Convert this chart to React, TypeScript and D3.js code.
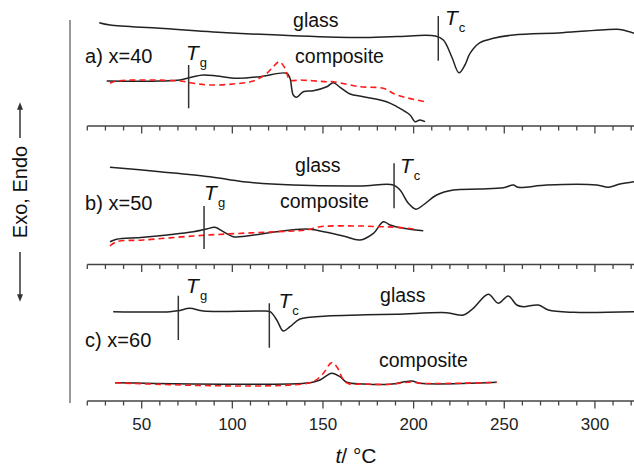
import React from 'react';
import * as d3 from 'd3';

// temperature (°C), signal (arb. units, per panel)
const glassA: [number, number][] = [
  [26.6, 103.3], [32.5, 101], [60.1, 97.7], [96.9, 93.3], [133.5, 90.3], [170.4, 88.5],
  [190.7, 89.5], [212, 90], [216.4, 86], [221, 69.3], [225, 53.3], [228.3, 61],
  [231.1, 72.7], [236.6, 83.3], [244, 87.7], [255, 91], [282, 93.3], [312, 96.7],
  [315.5, 96], [321.6, 92.7],
];
const compA: [number, number][] = [
  [30.7, 45], [60.1, 45], [71.1, 46], [78.5, 49.3], [84, 51], [91.4, 50], [102.4, 47.7],
  [115.3, 49.3], [130, 52.7], [131.8, 47.7], [133.6, 31], [135.5, 28.7], [139.1, 34.3],
  [144.7, 35.3], [152.1, 39.3], [155.7, 43.3], [159.4, 38.7], [164.9, 32], [172.2, 29.3],
  [185.1, 24.3], [190.7, 19.3], [198, 11], [200.8, 4.3], [203.5, 6], [206.3, 4.3],
];
const fitA: [number, number][] = [
  [32.5, 42.7], [36.2, 45], [71.1, 45], [78.5, 42.7], [87.7, 41], [100.5, 42], [111.6, 45],
  [119, 52.7], [122.6, 59.3], [125.9, 64.3], [129.1, 57.7], [131.8, 46], [137.3, 46],
  [152.1, 44.3], [155.7, 44.3], [170.4, 39.3], [183.3, 37.7], [190.7, 31], [206.3, 24.3],
];

const glassB: [number, number][] = [
  [32.5, 97.2], [60.1, 92.8], [87.7, 87.8], [106, 82.8], [133.6, 79.5], [170.4, 78.5],
  [188.8, 79.5], [192.5, 74.5], [197.1, 61.2], [201.3, 55.2], [205.3, 59.5], [212.7, 69.5],
  [221.9, 74.5], [236.6, 75.5], [249.5, 76.8], [255, 79.5], [257.7, 77.2], [273.4, 79.5],
  [301, 79.5], [307.4, 77.2], [313.8, 80.5], [321.6, 82.8],
];
const compB: [number, number][] = [
  [32.5, 22.8], [36.2, 25.2], [50.9, 27.2], [78.5, 32.8], [85.9, 35.5], [90.4, 37.2],
  [95, 32.8], [100.5, 27.8], [107.9, 28.5], [124.5, 32.8], [137.3, 35.2], [142.8, 35.2],
  [161.2, 28.5], [170.4, 24.5], [177.8, 31.2], [183.3, 42.8], [187, 39.5], [194.3, 36.2],
  [205.3, 33.8],
];
const fitB: [number, number][] = [
  [32.5, 18.5], [36.2, 22.8], [50.9, 24.5], [78.5, 28.5], [96.9, 30.5], [124.5, 32.8],
  [141, 34.5], [148.3, 37.8], [170.4, 38.5], [181.4, 37.8], [190.7, 37.2], [201.7, 35.2],
];

const glassC: [number, number][] = [
  [34.3, 89.3], [65.6, 89.3], [70.2, 90.3], [76.6, 92.7], [84, 90], [115.3, 90], [120.8, 89.3],
  [124.5, 81], [128.1, 70], [131.8, 74.3], [137.3, 82], [152.1, 85], [170.4, 86],
  [190.7, 86.7], [218.2, 88.3], [227.4, 86], [232.9, 92.7], [241.2, 106.7], [246.7, 97.7],
  [252.2, 105], [256.9, 96], [260.5, 94.3], [268.8, 96], [274.3, 91], [288.1, 88.7],
  [321.6, 89.3],
];
const compC: [number, number][] = [
  [35.3, 18.3], [142.8, 18.3], [148.3, 21], [154.8, 27.7], [159.4, 24.3], [163.1, 18.7],
  [172.2, 17], [187, 16.7], [198.9, 20], [203.5, 17.7], [245.8, 18.7],
];
const fitC: [number, number][] = [
  [35.3, 18.3], [142.8, 18.3], [149.4, 26], [154.8, 38.3], [157.7, 34], [161, 22],
  [163.8, 17.5], [172.2, 17], [187, 16.7], [198.9, 19], [203.5, 17.7], [245.8, 18.7],
];

// Tg / Tc marker lines: [temperature, from, to]
const markersA: [number, number, number][] = [[75.9, 61, 17.7], [213.6, 110, 65.3]];
const markersB: [number, number, number][] = [[84.4, 58.5, 15.5], [189.2, 101.2, 56.2]];
const markersC: [number, number, number][] = [[70.2, 105.3, 61], [120.4, 97.7, 53.3]];

const panelNames = ['a) x=40', 'b) x=50', 'c) x=60'];
const tickValues = d3.range(20, 321, 10);

const W = 634, H = 470;
const axisY = [126, 264.5, 401];
const x = d3.scaleLinear().domain([20, 322]).range([87.3, 634.8]);

const panels = [
  {
    glass: glassA, comp: compA, fit: fitA, markers: markersA,
    labels: { glass: [133.5, 99], comp: [134.6, 63], name: [18.8, 63] },
    tg: [74.4, 66], tc: [217.3, 101],
  },
  {
    glass: glassB, comp: compB, fit: fitB, markers: markersB,
    labels: { glass: [134.6, 92.8], comp: [126.3, 56.2], name: [18.8, 54.5] },
    tg: [84.4, 64.5], tc: [192.5, 91.2],
  },
  {
    glass: glassC, comp: compC, fit: fitC, markers: markersC,
    labels: { glass: [181.5, 99.3], comp: [180.9, 34.3], name: [18.8, 54.3] },
    tg: [74.5, 107.7], tc: [125.4, 92.7],
  },
];

const font = 'Liberation Sans, Arial, sans-serif';

const Sym = ({ px, py, sub }: { px: number; py: number; sub: string }) => (
  <text x={px} y={py} fontFamily={font} fill="#111">
    <tspan fontSize={21} fontStyle="italic">T</tspan>
    <tspan fontSize={13} dx={1} dy={7}>{sub}</tspan>
  </text>
);

const Panel = ({ p, i }: any) => {
  const bottom = axisY[i];
  const y = d3.scaleLinear().domain([0, 100]).range([bottom, bottom - 100]);
  const line = d3.line<[number, number]>()
    .x(d => x(d[0]))
    .y(d => y(d[1]))
    .curve(d3.curveCatmullRom.alpha(0.5));
  return (
    <g>
      <path d={line(p.glass) || ''} fill="none" stroke="#222" strokeWidth={1.5} />
      <path d={line(p.comp) || ''} fill="none" stroke="#222" strokeWidth={1.5} />
      <path d={line(p.fit) || ''} fill="none" stroke="#ff1a1a" strokeWidth={1.6} strokeDasharray="6,4" />
      {p.markers.map((m: [number, number, number], k: number) => (
        <line key={k} x1={x(m[0])} x2={x(m[0])} y1={y(m[1])} y2={y(m[2])} stroke="#333" strokeWidth={1.5} />
      ))}
      <text x={x(p.labels.glass[0])} y={y(p.labels.glass[1])} fontFamily={font} fontSize={19.5} fill="#111">glass</text>
      <text x={x(p.labels.comp[0])} y={y(p.labels.comp[1])} fontFamily={font} fontSize={19.5} fill="#111">composite</text>
      <text x={x(p.labels.name[0])} y={y(p.labels.name[1])} fontFamily={font} fontSize={20} fill="#111">{panelNames[i]}</text>
      <Sym px={x(p.tg[0])} py={y(p.tg[1])} sub="g" />
      <Sym px={x(p.tc[0])} py={y(p.tc[1])} sub="c" />
      <line x1={x(20)} x2={x(322)} y1={bottom} y2={bottom} stroke="#444" strokeWidth={1.5} />
      {tickValues.map(t => (
        <line key={t} x1={x(t)} x2={x(t)} y1={bottom} y2={bottom + (t % 50 === 0 ? 7.5 : 4.5)} stroke="#444" strokeWidth={1.3} />
      ))}
    </g>
  );
};

export default function App() {
  const last = axisY[2];
  return (
    <svg width={W} height={H} style={{ position: 'absolute', left: 0, top: 0, background: '#fff' }}>
      <defs>
        <marker id="arr" viewBox="0 0 10 10" refX={5} refY={5} markerWidth={5} markerHeight={5} orient="auto">
          <path d="M0,1 L10,5 L0,9 z" fill="#333" />
        </marker>
      </defs>
      <line x1={70} x2={70} y1={20} y2={403} stroke="#777" strokeWidth={1.5} />
      {panels.map((p, i) => <Panel key={i} p={p} i={i} />)}
      {tickValues.filter(t => t % 50 === 0 && t > 20).map(t => (
        <text key={t} x={x(t)} y={last + 29} textAnchor="middle" fontFamily={font} fontSize={17} fill="#222">{t}</text>
      ))}
      <text x={356} y={463} textAnchor="middle" fontFamily={font} fontSize={21} fill="#111">
        <tspan fontStyle="italic">t</tspan>/ °C
      </text>
      <g transform="translate(27,192) rotate(-90)">
        <text x={0} y={0} textAnchor="middle" fontFamily={font} fontSize={20} fill="#111">Exo, Endo</text>
        <line x1={54} x2={86} y1={-7} y2={-7} stroke="#333" strokeWidth={1.5} markerEnd="url(#arr)" />
        <line x1={-60} x2={-106} y1={-7} y2={-7} stroke="#333" strokeWidth={1.5} markerEnd="url(#arr)" />
      </g>
    </svg>
  );
}
